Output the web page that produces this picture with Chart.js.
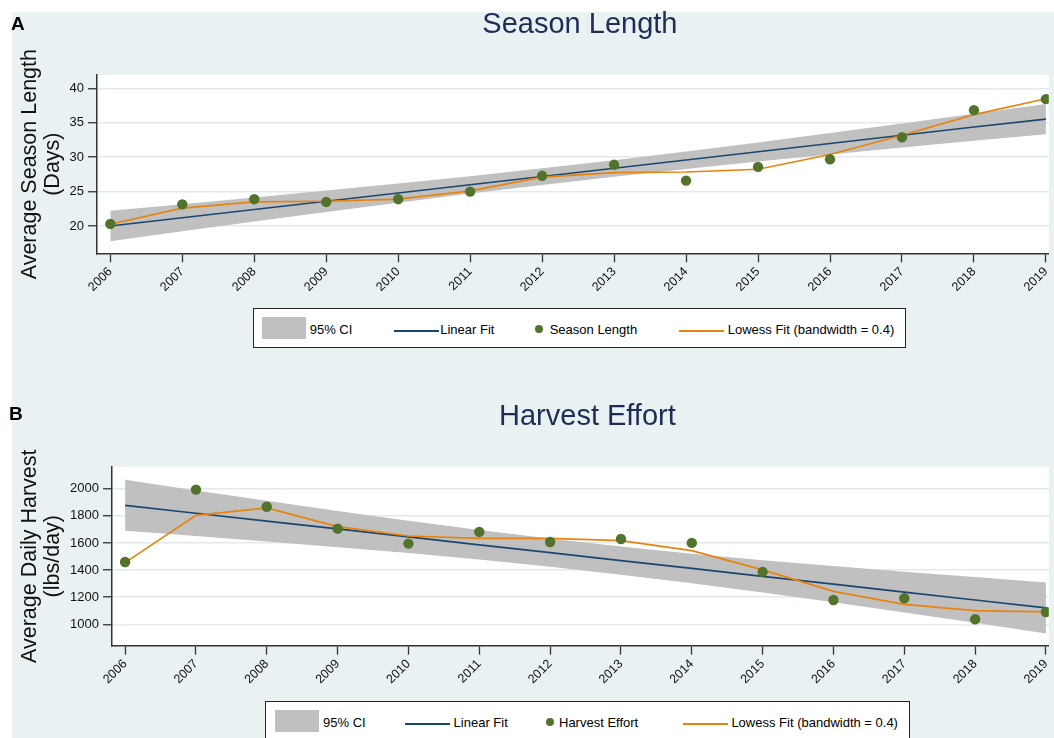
<!DOCTYPE html>
<html>
<head>
<meta charset="utf-8">
<script src="https://cdn.jsdelivr.net/npm/chart.js@4.4.1/dist/chart.umd.min.js"></script>
<style>
html,body{margin:0;padding:0;background:#fff;}
body{width:1054px;height:738px;position:relative;overflow:hidden;font-family:"Liberation Sans",Arial,sans-serif;}
canvas{position:absolute;left:0;}
#cA{top:0;}
#cB{top:390px;}
.letter{position:absolute;font-weight:bold;font-size:19px;line-height:19px;color:#000;}
.lgBox{position:absolute;background:#fff;border:1px solid #222;box-sizing:border-box;}
.lgEl{position:absolute;}
.lgTxt{position:absolute;font-size:13px;line-height:13px;color:#000;white-space:nowrap;}
</style>
</head>
<body>
<canvas id="cA" width="1054" height="390"></canvas>
<canvas id="cB" width="1054" height="348"></canvas>
<div class="letter" style="left:11px;top:13.5px;">A</div>
<div class="letter" style="left:9px;top:403.5px;">B</div>
<div id="legends"></div>
<script>
// ---------- data ----------
const years = [2006,2007,2008,2009,2010,2011,2012,2013,2014,2015,2016,2017,2018,2019];

const seasonLength  = [20.3,23.15,23.9,23.5,23.9,25.0,27.3,28.9,26.6,28.6,29.7,32.9,36.85,38.45];
const seasonLinear  = [20.0,21.2,22.4,23.6,24.8,26.0,27.2,28.4,29.6,30.8,32.0,33.2,34.4,35.55];
const seasonCIUpper = [22.2,23.17,24.14,25.15,26.17,27.25,28.39,29.58,30.84,32.15,33.52,34.91,36.32,37.75];
const seasonCILower = [17.8,19.23,20.64,22.03,23.39,24.71,25.97,27.16,28.3,29.37,30.4,31.41,32.38,33.35];
const seasonLowess  = [20.25,22.6,23.5,23.6,23.9,25.1,27.1,27.75,27.85,28.25,30.4,33.2,36.2,38.5];
const seasonTicks   = [20,25,30,35,40];

const harvestEffort  = [1459,1993,1867,1705,1595,1681,1607,1629,1600,1386,1179,1192,1037,1091];
const harvestLinear  = [1877,1819,1761,1703,1644,1586,1528,1470,1412,1354,1296,1237,1179,1121];
const harvestCIUpper = [2065,1987,1911,1836,1764,1695,1632,1574,1521,1473,1429,1387,1348,1309];
const harvestCILower = [1689,1651,1611,1569,1525,1477,1424,1366,1303,1234,1162,1087,1011,933];
const harvestLowess  = [1455,1803,1858,1720,1651,1634,1634,1617,1543,1401,1243,1147,1101,1091];
const harvestTicks   = [1000,1200,1400,1600,1800,2000];

const labelCI = '95% CI';
const labelLinear = 'Linear Fit';
const labelLowess = 'Lowess Fit (bandwidth = 0.4)';

// ---------- styles ----------
const FONT = '"Liberation Sans", Arial, sans-serif';
const C_PANEL = '#e9f1f3';
const C_GRID = '#e2eaed';
const C_AXIS = '#333333';
const C_CI = '#c0c0c0';
const C_NAVY = '#1a476f';
const C_ORANGE = '#e8830e';
const C_GREEN = '#52732b';
const C_TITLE = '#1f2d55';

Chart.defaults.font.family = FONT;
Chart.defaults.color = '#111';

const pts = arr => years.map((x, i) => ({x: x, y: arr[i]}));

const bgPlugin = {
  id: 'panelBg',
  afterLayout(chart, args, opts) {
    if (chart.titleBlock) {
      chart.titleBlock.left += opts.titleShift;
      chart.titleBlock.right += opts.titleShift;
    }
  },
  beforeDraw(chart, args, opts) {
    const ctx = chart.ctx;
    ctx.save();
    ctx.fillStyle = C_PANEL;
    ctx.fillRect(opts.x0, opts.y0, chart.width - opts.x0, chart.height - opts.y0);
    const a = chart.chartArea;
    ctx.fillStyle = '#ffffff';
    ctx.fillRect(a.left, a.top, a.right - a.left, a.bottom - a.top);
    ctx.restore();
  }
};

function makeChart(id, p) {
  return new Chart(document.getElementById(id), {
    type: 'line',
    data: {
      datasets: [
        {label: p.seriesLabel, data: pts(p.points), showLine: false, pointRadius: 5.2, pointHoverRadius: 5.2,
         pointBackgroundColor: C_GREEN, pointBorderWidth: 0, borderWidth: 0, order: 0},
        {label: labelLowess, data: pts(p.lowess), borderColor: C_ORANGE, borderWidth: 1.7, pointRadius: 0, order: 1},
        {label: labelLinear, data: pts(p.linear), borderColor: C_NAVY, borderWidth: 1.7, pointRadius: 0, order: 2},
        {label: labelCI, data: pts(p.ciUpper), borderWidth: 0, pointRadius: 0, backgroundColor: C_CI,
         fill: {target: 4}, order: 3},
        {label: 'ci-lower', data: pts(p.ciLower), borderWidth: 0, pointRadius: 0, fill: false, order: 4}
      ]
    },
    options: {
      responsive: false,
      animation: false,
      layout: {padding: {left: 0, right: 1, top: 0, bottom: 0}},
      plugins: {
        legend: {display: false},
        tooltip: {enabled: false},
        panelBg: {x0: 12, y0: p.bgTop, titleShift: 7},
        title: {display: true, text: p.title, fullSize: false, color: C_TITLE,
                font: {size: 29, weight: 'normal', lineHeight: 1},
                padding: {top: p.titleTop, bottom: p.titleBottom}}
      },
      scales: {
        x: {
          type: 'linear', min: 2005.815, max: 2019.04,
          afterBuildTicks: s => { s.ticks = years.map(v => ({value: v})); },
          ticks: {autoSkip: false, minRotation: 45, maxRotation: 45, padding: 2,
                  font: {size: 12.5}, color: '#111', callback: v => String(v)},
          grid: {drawOnChartArea: false, drawTicks: true, tickLength: 9, tickColor: C_AXIS, tickWidth: 1.3},
          border: {display: true, color: C_AXIS, width: 1.5},
          afterFit: s => { s.height = p.xHeight; s.paddingLeft = 0; s.paddingRight = 0; }
        },
        y: {
          min: p.yMin, max: p.yMax,
          afterBuildTicks: s => { s.ticks = p.ticks.map(v => ({value: v})); },
          ticks: {padding: 4, font: {size: 13}, color: '#111', callback: v => String(v)},
          grid: {color: C_GRID, lineWidth: 1.5, drawTicks: true, tickLength: 9, tickColor: C_AXIS, tickWidth: 1.3},
          border: {display: true, color: C_AXIS, width: 1.5},
          title: {display: true, text: p.yTitle, color: '#111',
                  font: {size: 21.5, lineHeight: 1.05}, padding: {top: 19.2, bottom: 0}},
          afterFit: s => { s.width = p.yWidth; s.paddingTop = 0; s.paddingBottom = 0; }
        }
      }
    },
    plugins: [bgPlugin]
  });
}

const chartA = makeChart('cA', {
  seriesLabel: 'Season Length', points: seasonLength, lowess: seasonLowess, linear: seasonLinear,
  ciUpper: seasonCIUpper, ciLower: seasonCILower, ticks: seasonTicks,
  yMin: 16.03, yMax: 41.96, yTitle: ['Average Season Length', '(Days)'], yWidth: 97,
  title: 'Season Length', titleTop: 10, titleBottom: 36, xHeight: 136.7, bgTop: 12
});

const chartB = makeChart('cB', {
  seriesLabel: 'Harvest Effort', points: harvestEffort, lowess: harvestLowess, linear: harvestLinear,
  ciUpper: harvestCIUpper, ciLower: harvestCILower, ticks: harvestTicks,
  yMin: 842.2, yMax: 2162, yTitle: ['Average Daily Harvest', '(lbs/day)'], yWidth: 112,
  title: 'Harvest Effort', titleTop: 12, titleBottom: 35.7, xHeight: 92.3, bgTop: 0
});

// ---------- HTML legends built from the chart datasets ----------
function buildLegend(chart, g) {
  const root = document.getElementById('legends');
  const ds = chart.data.datasets;
  const box = document.createElement('div');
  box.className = 'lgBox';
  Object.assign(box.style, {left: g.left + 'px', top: g.top + 'px', width: g.width + 'px', height: '40px'});
  root.appendChild(box);
  const add = (cls, css, text) => {
    const e = document.createElement('div');
    e.className = cls;
    Object.assign(e.style, css);
    if (text) e.textContent = text;
    root.appendChild(e);
  };
  const T = g.top;
  const items = [
    {kind: 'area', color: ds[3].backgroundColor, label: ds[3].label},
    {kind: 'line', color: ds[2].borderColor, label: ds[2].label},
    {kind: 'point', color: ds[0].pointBackgroundColor, label: ds[0].label},
    {kind: 'line', color: ds[1].borderColor, label: ds[1].label}
  ];
  items.forEach((it, i) => {
    const sx = Math.round(g.left + g.sym[i]), tx = g.left + g.txt[i];
    if (it.kind === 'area') {
      add('lgEl', {left: sx + 'px', top: (T + 9) + 'px', width: '44px', height: '22px', background: it.color});
    } else if (it.kind === 'line') {
      add('lgEl', {left: sx + 'px', top: (T + 22) + 'px', width: '45px', height: '2px', background: it.color});
    } else {
      add('lgEl', {left: (sx - 4) + 'px', top: (T + 17) + 'px', width: '8px', height: '8px',
                   borderRadius: '50%', background: it.color});
    }
    add('lgTxt', {left: tx + 'px', top: (T + 15) + 'px'}, it.label);
  });
}

buildLegend(chartA, {left: 253, top: 308, width: 653,
  sym: [9.4, 140.7, 286.0, 425.7], txt: [56.7, 187.2, 296.7, 474.7]});
buildLegend(chartB, {left: 265, top: 701, width: 645,
  sym: [9.7, 140.2, 285.4, 418.0], txt: [58.0, 188.6, 294.0, 466.4]});
</script>
</body>
</html>
